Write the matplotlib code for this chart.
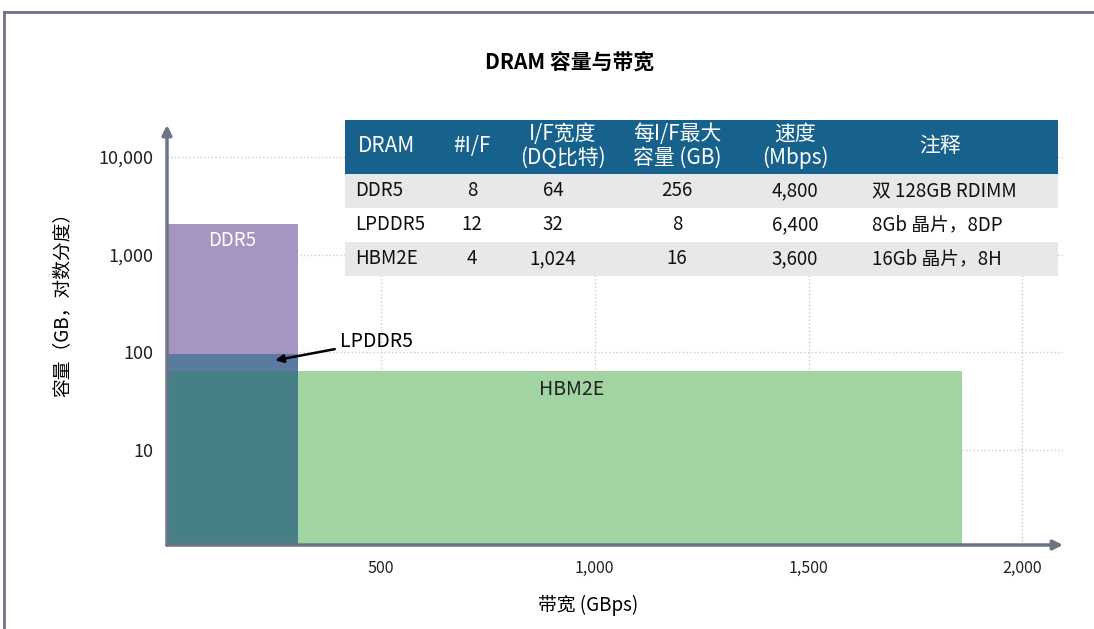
import matplotlib.pyplot as plt
from matplotlib.lines import Line2D
from matplotlib.patches import Rectangle

plt.rcParams['font.family'] = ['Noto Sans CJK SC', 'DejaVu Sans']

# memory types: bandwidth (GBps) and capacity (GB)
dram_names = ['DDR5', 'LPDDR5', 'HBM2E']
bandwidth = [307, 307, 1860]
capacity = [2048, 96, 64]
bar_colors = ['#a694c1', '#5b7aa1', '#a1d4a1']
overlap_color = '#467f86'

x_ticks = [500, 1000, 1500, 2000]
x_labels = ['500', '1,000', '1,500', '2,000']
y_ticks = [10, 100, 1000, 10000]
y_labels = ['10', '100', '1,000', '10,000']

# table contents
table_header = ['DRAM', '#I/F', 'I/F宽度\n(DQ比特)', '每I/F最大\n容量 (GB)', '速度\n(Mbps)', '注释']
table_rows = [
    ['DDR5', '8', '64', '256', '4,800', '双 128GB RDIMM'],
    ['LPDDR5', '12', '32', '8', '6,400', '8Gb 晶片，8DP'],
    ['HBM2E', '4', '1,024', '16', '3,600', '16Gb 晶片，8H'],
]

W, H = 1094, 629
fig = plt.figure(figsize=(W / 100, H / 100), dpi=100)

# outer frame (top and left only)
frame_c = '#6b7385'
fig.add_artist(Line2D([4 / W, 4 / W], [0, 1 - 12 / H], color=frame_c, lw=2))
fig.add_artist(Line2D([4 / W, 1], [1 - 12 / H, 1 - 12 / H], color=frame_c, lw=2))

ax = fig.add_axes([167 / W, 84 / H, 896 / W, 420 / H])
ax.set_yscale('log')
ax.set_xlim(0, 2095)
ax.set_ylim(1.066, 21250)

# bars, drawn from the origin
ax.bar(0, capacity[0] - 1, width=bandwidth[0], bottom=1, align='edge', color=bar_colors[0], zorder=2)
ax.bar(0, capacity[1] - 1, width=bandwidth[1], bottom=1, align='edge', color=bar_colors[1], zorder=3)
ax.bar(0, capacity[2] - 1, width=bandwidth[2], bottom=1, align='edge', color=bar_colors[2], zorder=3)
# overlap of LPDDR5 and HBM2E
ax.bar(0, min(capacity[1], capacity[2]) - 1, width=min(bandwidth[1], bandwidth[2]), bottom=1,
       align='edge', color=overlap_color, zorder=4)

ax.set_xticks(x_ticks)
ax.set_xticklabels(x_labels, fontsize=11.5)
ax.set_yticks(y_ticks)
ax.set_yticklabels(y_labels, fontsize=13)
ax.minorticks_off()
ax.tick_params(length=0, colors='#222222')
ax.tick_params(axis='x', pad=11)
ax.tick_params(axis='y', pad=10)
ax.grid(True, ls=':', color='#cccccc', lw=1, zorder=1)
for s in ax.spines.values():
    s.set_visible(False)

# axis arrows
ax.annotate('', xy=(1.0, 0), xytext=(0, 0), xycoords='axes fraction',
            arrowprops=dict(arrowstyle='-|>', color=frame_c, lw=2.5, mutation_scale=14, shrinkA=0, shrinkB=0),
            zorder=6)
ax.annotate('', xy=(0, 1.0), xytext=(0, 0), xycoords='axes fraction',
            arrowprops=dict(arrowstyle='-|>', color=frame_c, lw=2.5, mutation_scale=14, shrinkA=0, shrinkB=0),
            zorder=6)

ax.text(152, 1390, dram_names[0], color='white', fontsize=13.5, ha='center', va='center', zorder=5)
ax.text(945, 41.8, dram_names[2], color='#222222', fontsize=14, ha='center', va='center', zorder=5)
ax.annotate(dram_names[1], xy=(253, 82.8), xytext=(405, 130), fontsize=14, ha='left', va='center',
            arrowprops=dict(arrowstyle='-|>', color='black', lw=1.8, mutation_scale=12, shrinkA=2, shrinkB=0),
            zorder=6)

fig.text(588 / W, 1 - 605 / H, '带宽 (GBps)', fontsize=13.5, ha='center', va='center')
fig.text(62 / W, 1 - 300 / H, '容量（GB，对数分度）', fontsize=13.5, ha='center', va='center', rotation=90)
fig.text(570 / W, 1 - 63 / H, 'DRAM 容量与带宽', fontsize=15, ha='center', va='center', weight='bold')

# table in pixel units
tx = fig.add_axes([345 / W, (H - 276) / H, 713 / W, 156 / H])
tx.set_xlim(0, 713)
tx.set_ylim(156, 0)
tx.axis('off')
tx.add_patch(Rectangle((0, 0), 713, 54, color='#17628c', lw=0))
row_bg = ['#e8e8e8', 'white', '#e8e8e8']
for i, bg in enumerate(row_bg):
    tx.add_patch(Rectangle((0, 54 + 34 * i), 713, 34, color=bg, lw=0))

head_x = [13, 127, 218, 332, 450, 595]
head_ha = ['left', 'center', 'center', 'center', 'center', 'center']
for x, h, label in zip(head_x, head_ha, table_header):
    tx.text(x, 26, label, color='white', fontsize=15, ha=h, va='center', linespacing=1.1)

cell_x = [10, 127, 208, 332, 450, 527]
cell_ha = ['left', 'center', 'center', 'center', 'center', 'left']
for i, row in enumerate(table_rows):
    for x, h, val in zip(cell_x, cell_ha, row):
        tx.text(x, 54 + 34 * i + 17, val, color='#111111', fontsize=13.5, ha=h, va='center')

fig.savefig('out.png', dpi=100)
